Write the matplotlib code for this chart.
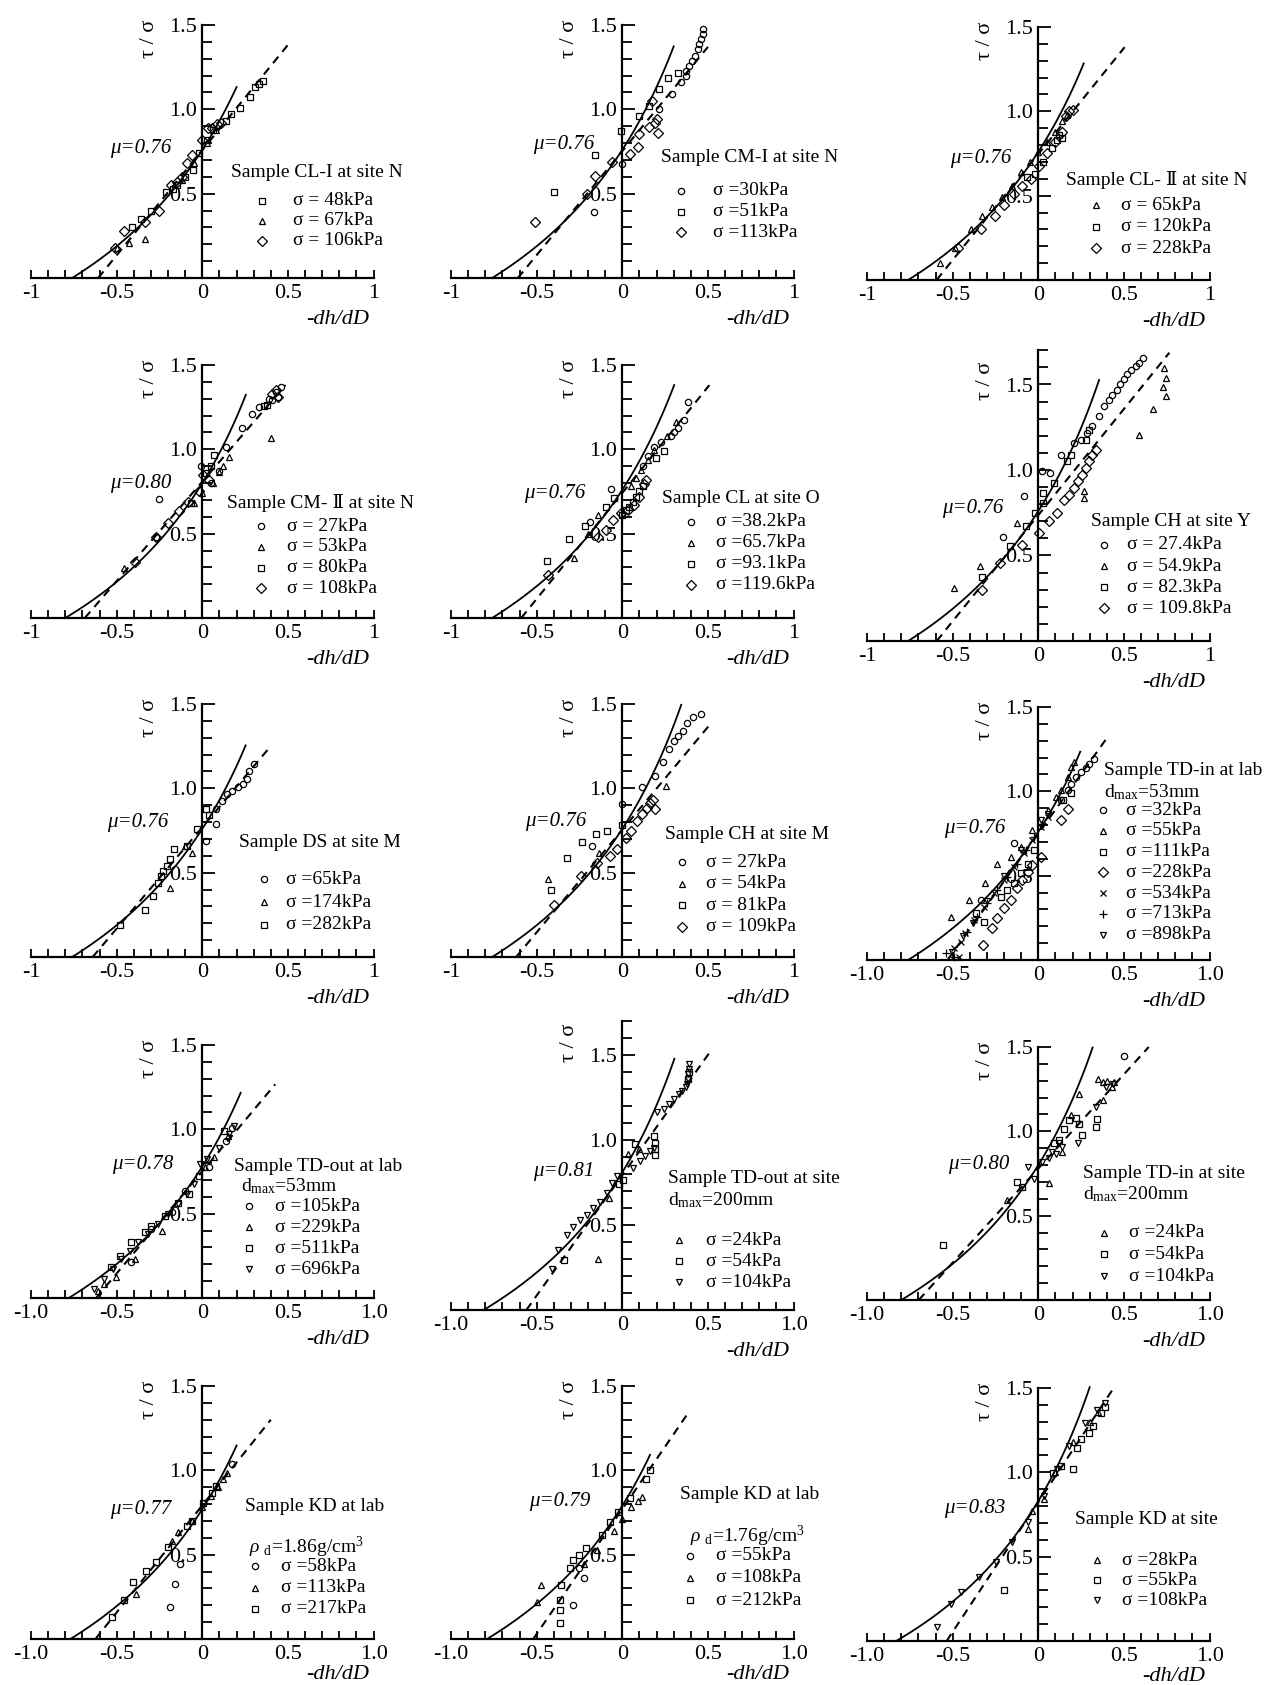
import numpy as np
import matplotlib
matplotlib.use("Agg")
import matplotlib.pyplot as plt

plt.rcParams["font.family"] = ["Liberation Serif", "DejaVu Serif", "Noto Sans CJK JP"]
plt.rcParams["mathtext.fontset"] = "custom"
plt.rcParams["mathtext.rm"] = "Liberation Serif"
plt.rcParams["mathtext.it"] = "Liberation Serif:italic"

# ---------------- data ----------------
mu_values = [0.76, 0.76, 0.76, 0.80, 0.76, 0.76, 0.76, 0.76, 0.76,
             0.78, 0.81, 0.80, 0.77, 0.79, 0.83]
# last -dh/dD of the solid (theory) curve
solid_end = [0.20, 0.30, 0.265, 0.254, 0.303, 0.355, 0.253, 0.344, 0.245,
             0.224, 0.304, 0.317, 0.20, 0.162, 0.30]
# dashed line: x where it meets 0, end x, end y
dash_x0 = [-0.608, -0.61, -0.594, -0.686, -0.59, -0.593, -0.64, -0.62, -0.53,
           -0.62, -0.56, -0.698, -0.624, -0.52, -0.535]
dash_x1 = [0.504, 0.50, 0.504, 0.486, 0.508, 0.765, 0.393, 0.506, 0.405,
           0.426, 0.505, 0.645, 0.40, 0.388, 0.44]
dash_y1 = [1.387, 1.37, 1.38, 1.381, 1.38, 1.686, 1.242, 1.371, 1.322,
           1.267, 1.508, 1.50, 1.30, 1.345, 1.50]

titles = ["Sample CL-I at site N", "Sample CM-I at site N", "Sample CL- \u2161 at site N",
          "Sample CM- \u2161 at site N", "Sample CL at site O", "Sample CH at site Y",
          "Sample DS at site M", "Sample CH at site M", "Sample TD-in at lab",
          "Sample TD-out at lab", "Sample TD-out at site", "Sample TD-in at site",
          "Sample KD at lab", "Sample KD at lab", "Sample KD at site"]
subtitles = [None, None, None, None, None, None, None, None,
             r"d$_{\mathrm{max}}$=53mm", r"d$_{\mathrm{max}}$=53mm",
             r"d$_{\mathrm{max}}$=200mm", r"d$_{\mathrm{max}}$=200mm",
             r"$\rho$ $_{\mathrm{d}}$=1.86g/cm$^{3}$", r"$\rho$ $_{\mathrm{d}}$=1.76g/cm$^{3}$", None]

labels = [
    ["\u03c3 = 48kPa", "\u03c3 = 67kPa", "\u03c3 = 106kPa"],
    ["\u03c3 =30kPa", "\u03c3 =51kPa", "\u03c3 =113kPa"],
    ["\u03c3 = 65kPa", "\u03c3 = 120kPa", "\u03c3 = 228kPa"],
    ["\u03c3 = 27kPa", "\u03c3 = 53kPa", "\u03c3 = 80kPa", "\u03c3 = 108kPa"],
    ["\u03c3 =38.2kPa", "\u03c3 =65.7kPa", "\u03c3 =93.1kPa", "\u03c3 =119.6kPa"],
    ["\u03c3 = 27.4kPa", "\u03c3 = 54.9kPa", "\u03c3 = 82.3kPa", "\u03c3 = 109.8kPa"],
    ["\u03c3 =65kPa", "\u03c3 =174kPa", "\u03c3 =282kPa"],
    ["\u03c3 = 27kPa", "\u03c3 = 54kPa", "\u03c3 = 81kPa", "\u03c3 = 109kPa"],
    ["\u03c3 =32kPa", "\u03c3 =55kPa", "\u03c3 =111kPa", "\u03c3 =228kPa",
     "\u03c3 =534kPa", "\u03c3 =713kPa", "\u03c3 =898kPa"],
    ["\u03c3 =105kPa", "\u03c3 =229kPa", "\u03c3 =511kPa", "\u03c3 =696kPa"],
    ["\u03c3 =24kPa", "\u03c3 =54kPa", "\u03c3 =104kPa"],
    ["\u03c3 =24kPa", "\u03c3 =54kPa", "\u03c3 =104kPa", None],
    ["\u03c3 =58kPa", "\u03c3 =113kPa", "\u03c3 =217kPa"],
    ["\u03c3 =55kPa", "\u03c3 =108kPa", "\u03c3 =212kPa"],
    ["\u03c3 =28kPa", "\u03c3 =55kPa", "\u03c3 =108kPa"],
]
markers = [
    ["s", "^", "D"], ["o", "s", "D"], ["^", "s", "D"], ["o", "^", "s", "D"],
    ["o", "^", "s", "D"], ["o", "^", "s", "D"], ["o", "^", "s"], ["o", "^", "s", "D"],
    ["o", "^", "s", "D", "x", "+", "v"], ["o", "^", "s", "v"], ["^", "s", "v"],
    ["^", "s", "v", "o"], ["o", "^", "s"], ["o", "^", "s"], ["^", "s", "v"],
]

p1_x = [[0.357, 0.33, 0.31, 0.28, 0.22, 0.17, 0.14, 0.06, 0.025, -0.02, -0.057, -0.10, -0.15, -0.17, -0.21, -0.30, -0.355, -0.41],
        [-0.336, -0.43, -0.5, -0.12, -0.05, 0.03, 0.08],
        [0.084, 0.055, 0.035, -0.004, -0.06, -0.12, -0.18, -0.25, -0.336, -0.46, -0.51, -0.15, -0.09, 0.11]]
p1_y = [[1.17, 1.15, 1.13, 1.07, 1.01, 0.97, 0.93, 0.88, 0.82, 0.74, 0.64, 0.60, 0.55, 0.53, 0.51, 0.40, 0.35, 0.30],
        [0.23, 0.21, 0.18, 0.58, 0.68, 0.80, 0.88],
        [0.91, 0.89, 0.89, 0.82, 0.73, 0.60, 0.55, 0.395, 0.33, 0.28, 0.18, 0.57, 0.68, 0.92]]

p2_x = [[0.47, 0.47, 0.46, 0.45, 0.44, 0.427, 0.408, 0.388, 0.369, 0.373, 0.343, 0.288, 0.216, -0.167, 0.0],
        [-0.01, -0.157, -0.4, 0.098, 0.153, 0.216, 0.265, 0.324],
        [-0.51, -0.206, -0.157, -0.059, 0.043, 0.094, 0.098, 0.157, 0.192, 0.2, 0.176, 0.21]]
p2_y = [[1.476, 1.447, 1.417, 1.387, 1.357, 1.318, 1.288, 1.259, 1.229, 1.2, 1.16, 1.09, 1.0, 0.39, 0.676],
        [0.873, 0.73, 0.508, 0.962, 1.02, 1.12, 1.186, 1.213],
        [0.33, 0.5, 0.607, 0.69, 0.735, 0.775, 0.854, 0.897, 0.92, 0.943, 1.05, 0.86]]

p3_x = [[-0.575, -0.486, -0.39, -0.33, -0.27, -0.21, -0.153, -0.10, -0.05, 0.0, 0.05, 0.10, 0.14, 0.17],
        [-0.065, 0.14, 0.11, 0.03, -0.02, 0.08, 0.12],
        [-0.467, -0.333, -0.25, -0.2, -0.143, -0.094, -0.045, 0.004, 0.053, 0.1, 0.14, 0.16, 0.18, 0.2]]
p3_y = [[0.10, 0.19, 0.30, 0.38, 0.43, 0.49, 0.56, 0.64, 0.70, 0.76, 0.82, 0.88, 0.94, 0.98],
        [0.61, 0.84, 0.83, 0.70, 0.63, 0.78, 0.86],
        [0.187, 0.3, 0.38, 0.444, 0.507, 0.56, 0.6, 0.677, 0.75, 0.82, 0.878, 0.97, 1.0, 1.01]]

p4_x = [[0.457, 0.428, 0.44, 0.409, 0.39, 0.33, 0.293, 0.23, 0.138, -0.008, -0.254, -0.27, 0.05, 0.1],
        [0.4, -0.46, 0.0, 0.06, 0.1, 0.157, 0.12, -0.05],
        [-0.066, 0.07, 0.36, 0.02, 0.05, 0.38],
        [-0.395, -0.273, -0.2, -0.134, -0.085, -0.017, 0.002, 0.04, 0.409, 0.43, 0.44]]
p4_y = [[1.372, 1.34, 1.31, 1.29, 1.30, 1.25, 1.21, 1.125, 1.016, 0.90, 0.705, 0.48, 0.80, 0.87],
        [1.066, 0.296, 0.74, 0.80, 0.868, 0.957, 0.90, 0.68],
        [0.68, 0.967, 1.257, 0.86, 0.90, 1.26],
        [0.33, 0.483, 0.562, 0.632, 0.69, 0.75, 0.85, 0.82, 1.33, 1.35, 1.31]]

p5_x = [[0.381, 0.36, 0.323, 0.284, 0.226, 0.187, -0.066, -0.19, 0.15, 0.12, 0.3],
        [-0.28, -0.2, -0.144, 0.107, 0.148, 0.187, 0.263, 0.311, 0.05, 0.08],
        [-0.44, -0.31, -0.216, -0.095, -0.047, 0.245, 0.196, 0.0, 0.02, 0.04, 0.06, 0.08, 0.10, 0.12],
        [-0.436, -0.144, -0.095, -0.056, -0.008, 0.031, 0.07, 0.1, 0.138, 0.125]]
p5_y = [[1.283, 1.175, 1.125, 1.076, 1.046, 1.016, 0.766, 0.572, 0.96, 0.90, 1.10],
        [0.355, 0.5, 0.61, 0.878, 0.937, 0.997, 1.076, 1.164, 0.78, 0.83],
        [0.335, 0.47, 0.547, 0.66, 0.71, 0.987, 0.947, 0.61, 0.64, 0.66, 0.69, 0.72, 0.75, 0.78],
        [0.257, 0.483, 0.523, 0.582, 0.62, 0.64, 0.67, 0.72, 0.82, 0.795]]

p6_x = [[0.61, 0.59, 0.57, 0.54, 0.52, 0.50, 0.478, 0.458, 0.433, 0.413, 0.384, 0.355, 0.315, 0.286, 0.247, 0.208, 0.13, 0.071, 0.022, -0.085, -0.206],
        [0.736, 0.745, 0.727, 0.745, 0.667, 0.59, 0.267, 0.264, -0.124, -0.343, -0.495],
        [0.296, 0.276, 0.188, 0.17, 0.09, 0.028, 0.028, -0.017, -0.07, -0.163, -0.33],
        [0.335, 0.315, 0.296, 0.276, 0.257, 0.231, 0.208, 0.179, 0.15, 0.11, 0.061, 0.003, -0.095, -0.222, -0.33]]
p6_y = [[1.656, 1.627, 1.607, 1.584, 1.56, 1.53, 1.50, 1.47, 1.441, 1.41, 1.373, 1.314, 1.26, 1.217, 1.178, 1.158, 1.09, 0.982, 0.992, 0.846, 0.607],
        [1.598, 1.539, 1.486, 1.43, 1.354, 1.207, 0.875, 0.836, 0.69, 0.44, 0.309],
        [1.236, 1.178, 1.09, 1.05, 0.924, 0.865, 0.807, 0.748, 0.67, 0.553, 0.373],
        [1.119, 1.085, 1.05, 1.012, 0.973, 0.934, 0.895, 0.855, 0.826, 0.748, 0.70, 0.631, 0.5625, 0.455, 0.299]]

p7_x = [[0.3, 0.275, 0.262, 0.238, 0.207, 0.176, 0.145, 0.114, 0.082, 0.082, 0.02],
        [-0.058, -0.19, -0.1],
        [0.02, -0.166, -0.19, -0.204, -0.229, -0.244, -0.26, -0.29, -0.336, -0.482, -0.089, 0.04, -0.03]]
p7_y = [[1.143, 1.104, 1.058, 1.024, 1.005, 0.985, 0.965, 0.925, 0.876, 0.787, 0.688],
        [0.618, 0.41, 0.66],
        [0.876, 0.638, 0.578, 0.539, 0.509, 0.479, 0.44, 0.36, 0.281, 0.192, 0.658, 0.84, 0.76]]

p8_x = [[0.46, 0.41, 0.38, 0.356, 0.325, 0.303, 0.272, 0.24, 0.19, 0.116, -0.175, 0.0],
        [0.256, -0.134, -0.431],
        [-0.156, -0.088, -0.234, -0.322, -0.416, 0.0],
        [-0.4, -0.244, -0.15, -0.072, -0.03, 0.02, 0.053, 0.084, 0.116, 0.147, 0.163, 0.18, 0.19]]
p8_y = [[1.44, 1.42, 1.39, 1.341, 1.312, 1.282, 1.232, 1.153, 1.074, 1.005, 0.658, 0.905],
        [1.014, 0.618, 0.46],
        [0.727, 0.747, 0.682, 0.588, 0.40, 0.78],
        [0.311, 0.479, 0.559, 0.598, 0.64, 0.707, 0.747, 0.806, 0.846, 0.886, 0.915, 0.93, 0.88]]

p9_x = [[0.327, 0.298, 0.278, 0.249, 0.22, 0.19, 0.171, 0.132, -0.141, -0.337],
        [-0.512, -0.405, -0.313, -0.239, -0.161, -0.102, -0.034, 0.19, 0.21, 0.171, 0.132, 0.103, 0.054],
        [-0.366, -0.317, -0.22, -0.18, -0.141, -0.102, -0.063, -0.024, 0.142, 0.19],
        [-0.32, -0.268, -0.239, -0.2, -0.161, -0.122, -0.093, -0.063, -0.034, 0.015, 0.132, 0.171],
        [-0.463, -0.493, -0.454, -0.425, -0.376, -0.317, -0.259, -0.2, -0.141, -0.083, -0.034, 0.015, 0.054],
        [-0.541, -0.493, -0.415, -0.356, -0.298, -0.239, -0.18, -0.122, -0.073, -0.024, 0.024],
        [-0.502, -0.44, -0.38, -0.3, -0.2, -0.1, 0.015, 0.054]]
p9_y = [[1.194, 1.164, 1.14, 1.115, 1.085, 1.046, 1.006, 0.947, 0.691, 0.355],
        [0.257, 0.355, 0.458, 0.572, 0.61, 0.671, 0.77, 1.145, 1.174, 1.085, 1.006, 0.967, 0.888],
        [0.276, 0.227, 0.375, 0.414, 0.454, 0.513, 0.572, 0.651, 0.947, 0.987],
        [0.089, 0.187, 0.247, 0.306, 0.355, 0.424, 0.474, 0.523, 0.562, 0.612, 0.828, 0.898],
        [0.02, 0.069, 0.109, 0.158, 0.237, 0.316, 0.395, 0.474, 0.553, 0.632, 0.711, 0.789, 0.848],
        [0.039, 0.02, 0.168, 0.257, 0.335, 0.414, 0.493, 0.572, 0.651, 0.73, 0.809],
        [0.049, 0.14, 0.22, 0.35, 0.50, 0.65, 0.829, 0.868]]

p10_x = [[0.175, 0.136, 0.037, -0.1, -0.179, -0.297, -0.415],
         [0.151, 0.067, 0.018, -0.238, -0.395, -0.503, -0.572, -0.61],
         [-0.532, -0.483, -0.415, -0.336, -0.297, -0.218, -0.14, -0.08, -0.022, 0.126],
         [-0.631, -0.572, -0.523, -0.473, -0.424, -0.375, -0.316, -0.257, -0.198, -0.139, -0.09, -0.051, -0.012, 0.028, 0.096, 0.155, 0.185]]
p10_y = [[1.01, 0.932, 0.774, 0.636, 0.507, 0.408, 0.211],
         [0.961, 0.833, 0.774, 0.399, 0.231, 0.122, 0.083, 0.043],
         [0.182, 0.25, 0.33, 0.389, 0.428, 0.487, 0.566, 0.616, 0.724, 0.99],
         [0.053, 0.112, 0.172, 0.231, 0.28, 0.33, 0.379, 0.438, 0.497, 0.557, 0.616, 0.675, 0.793, 0.823, 0.892, 0.971, 1.02]]

p11_x = [[-0.14, 0.036, -0.08, 0.10],
         [-0.34, 0.075, 0.183, 0.193, 0.193, 0.19, 0.007, -0.02, 0.39, 0.385],
         [0.388, 0.388, 0.386, 0.383, 0.378, 0.369, 0.349, 0.33, 0.30, 0.271, 0.241, 0.202, 0.183, 0.163, 0.134, 0.104, 0.065, -0.032, -0.062, -0.091, -0.13, -0.169, -0.208, -0.247, -0.286, -0.325, -0.374, -0.413]]
p11_y = [[0.302, 0.915, 0.66, 0.95],
         [0.296, 0.974, 1.024, 0.984, 0.945, 0.91, 0.767, 0.74, 1.40, 1.36],
         [1.449, 1.419, 1.39, 1.36, 1.33, 1.31, 1.29, 1.271, 1.241, 1.211, 1.182, 1.162, 0.955, 0.935, 0.905, 0.875, 0.836, 0.787, 0.747, 0.688, 0.638, 0.599, 0.559, 0.53, 0.49, 0.441, 0.352, 0.243]]

p12_x = [[0.346, 0.376, 0.40, 0.43, 0.379, 0.239, 0.19, 0.063, 0.141, -0.18, 0.44],
         [-0.557, -0.122, -0.093, 0.151, 0.18, 0.22, 0.239, 0.255, 0.336, 0.34, 0.093, 0.12],
         [-0.063, -0.024, 0.024, 0.102, 0.122, 0.141, 0.229, 0.395, 0.336, 0.434, 0.06, 0.08],
         [0.502]]
p12_y = [[1.312, 1.293, 1.30, 1.263, 1.184, 1.224, 1.095, 0.691, 0.878, 0.592, 1.29],
         [0.326, 0.70, 0.671, 1.016, 1.066, 1.076, 1.046, 0.977, 1.026, 1.07, 0.928, 0.95],
         [0.789, 0.72, 0.819, 0.868, 0.928, 0.908, 0.928, 1.263, 1.145, 1.283, 0.84, 0.88],
         [1.445]]

p13_x = [[-0.186, -0.162, -0.129, 0.176],
         [0.144, 0.12, 0.09, -0.139, -0.176, -0.388, -0.06, 0.0, 0.05],
         [-0.529, -0.459, -0.402, -0.327, -0.271, -0.2, -0.092, -0.059, 0.002, 0.059, 0.082]]
p13_y = [[0.19, 0.328, 0.446, 1.035],
         [0.985, 0.95, 0.90, 0.632, 0.583, 0.269, 0.70, 0.78, 0.85],
         [0.132, 0.23, 0.338, 0.406, 0.456, 0.544, 0.672, 0.701, 0.809, 0.868, 0.907]]

p14_x = [[-0.285, -0.224, -0.252],
         [-0.473, -0.496, -0.224, 0.115, 0.09, 0.05, 0.0, -0.05, -0.15],
         [-0.365, -0.365, -0.365, -0.355, -0.308, -0.285, -0.252, -0.214, -0.12, -0.073, -0.026, 0.045, 0.139, 0.162]]
p14_y = [[0.201, 0.363, 0.418],
         [0.32, 0.221, 0.442, 0.843, 0.82, 0.78, 0.71, 0.64, 0.53],
         [0.093, 0.172, 0.231, 0.32, 0.418, 0.468, 0.497, 0.537, 0.616, 0.695, 0.754, 0.833, 0.951, 1.0]]

p15_x = [[-0.06, -0.036, 0.036, 0.10, 0.20, 0.30, 0.35],
         [-0.20, 0.083, 0.13, 0.20, 0.226, 0.297, 0.32, 0.368, 0.39, 0.25],
         [-0.59, -0.51, -0.449, -0.344, -0.249, -0.154, -0.06, 0.036, 0.107, 0.178, 0.273, 0.344, 0.392]]
p15_y = [[0.664, 0.773, 0.84, 1.0, 1.18, 1.30, 1.36],
         [0.30, 0.998, 1.04, 1.02, 1.146, 1.234, 1.274, 1.352, 1.39, 1.20],
         [0.085, 0.22, 0.29, 0.38, 0.468, 0.586, 0.704, 0.86, 1.018, 1.156, 1.293, 1.372, 1.41]]

series_x = [p1_x, p2_x, p3_x, p4_x, p5_x, p6_x, p7_x, p8_x, p9_x, p10_x, p11_x, p12_x, p13_x, p14_x, p15_x]
series_y = [p1_y, p2_y, p3_y, p4_y, p5_y, p6_y, p7_y, p8_y, p9_y, p10_y, p11_y, p12_y, p13_y, p14_y, p15_y]

# ---------------- layout (pixels of the 1266x1685 figure) ----------------
W, H = 1266, 1685
COL_X0 = [31, 451, 867]          # pixel of x = -1
UX = 171.3                       # pixels per unit in x
Y0 = [278, 278, 280, 618, 618, 641, 957, 957, 960, 1298, 1310, 1300, 1639, 1639, 1641]
UY = [168.7] * 15
UY[5], UY[10] = 171.0, 170.0
YTOP = [1.5] * 15
YTOP[5], YTOP[10] = 1.7, 1.7
YLAB_Y = [1.42] * 15
YLAB_Y[5], YLAB_Y[10] = 1.52, 1.57
XLAB_Y = [-0.245] * 12 + [-0.212] * 3

mu_pos = [(-0.54, 0.765), (-0.52, 0.794), (-0.516, 0.72), (-0.54, 0.80), (-0.576, 0.74),
          (-0.564, 0.777), (-0.555, 0.797), (-0.566, 0.806), (-0.551, 0.78), (-0.528, 0.79),
          (-0.521, 0.816), (-0.526, 0.805), (-0.539, 0.766), (-0.544, 0.813), (-0.549, 0.786)]
# legend: title (x, y), subtitle (x, y), marker x, text x, first row y, row step
leg = [
    ((0.17, 0.626), None, 0.35, 0.53, 0.458, 0.119),
    ((0.225, 0.715), None, 0.343, 0.53, 0.518, 0.124),
    ((0.16, 0.592), None, 0.337, 0.484, 0.444, 0.128),
    ((0.147, 0.68), None, 0.34, 0.496, 0.543, 0.122),
    ((0.23, 0.71), None, 0.40, 0.547, 0.572, 0.125),
    ((0.306, 0.70), None, 0.384, 0.52, 0.5625, 0.124),
    ((0.216, 0.678), None, 0.362, 0.487, 0.46, 0.134),
    ((0.25, 0.727), None, 0.35, 0.49, 0.563, 0.128),
    ((0.381, 1.125), (0.385, 0.997), 0.376, 0.512, 0.888, 0.123),
    ((0.185, 0.78), (0.224, 0.661), 0.273, 0.426, 0.543, 0.124),
    ((0.267, 0.771), (0.267, 0.648), 0.329, 0.486, 0.411, 0.124),
    ((0.262, 0.75), (0.262, 0.628), 0.385, 0.532, 0.40, 0.129),
    ((0.247, 0.785), (0.27, 0.544), 0.308, 0.459, 0.432, 0.127),
    ((0.336, 0.857), (0.398, 0.606), 0.398, 0.548, 0.493, 0.131),
    ((0.216, 0.718), None, 0.344, 0.487, 0.48, 0.119),
]

MSIZE = {"o": 4.5, "^": 5, "s": 5, "D": 5, "x": 5, "+": 6, "v": 5}

fig = plt.figure(figsize=(W / 100, H / 100), dpi=100)
fig.patch.set_facecolor("white")

for i in range(15):
    col = i % 3
    x0 = COL_X0[col]
    y0, uy, ytop = Y0[i], UY[i], YTOP[i]
    xa, xb = -1.05, 1.05
    ya, yb = -0.05, ytop + 0.05
    left = (x0 + (xa + 1) * UX) / W
    width = (xb - xa) * UX / W
    bottom = 1 - (y0 - ya * uy) / H
    height = (yb - ya) * uy / H
    ax = fig.add_axes([left, bottom, width, height])
    ax.set_xlim(xa, xb)
    ax.set_ylim(ya, yb)
    ax.patch.set_alpha(0)

    for s in ("top", "right"):
        ax.spines[s].set_visible(False)
    ax.spines["left"].set_position(("data", 0))
    ax.spines["bottom"].set_position(("data", 0))
    ax.spines["left"].set_bounds(0, ytop)
    ax.spines["bottom"].set_bounds(-1, 1)
    for s in ("left", "bottom"):
        ax.spines[s].set_linewidth(1.6)

    ax.set_xticks([-1, -0.5, 0, 0.5, 1])
    if i >= 8:
        ax.set_xticklabels(["-1.0", "-0.5", "0", "0.5", "1.0"])
    else:
        ax.set_xticklabels(["-1", "-0.5", "0", "0.5", "1"])
    ax.set_xticks(np.round(np.arange(-1, 1.001, 0.1), 2), minor=True)
    ax.set_yticks([0.5, 1.0, 1.5])
    ax.set_yticklabels(["0.5", "1.0", "1.5"])
    ax.set_yticks(np.round(np.arange(0.1, ytop + 0.001, 0.1), 2), minor=True)
    ax.tick_params(axis="x", which="both", direction="in", length=6, width=1.3,
                   pad=4, labelsize=16)
    ax.tick_params(axis="y", which="both", direction="in", length=7, width=1.3,
                   pad=4, labelsize=16)
    ax.tick_params(axis="y", which="major", length=9)

    mu = mu_values[i]
    d = np.linspace(-mu, solid_end[i], 120)
    ax.plot(d, (mu + d) / (1 - mu * d), color="black", lw=1.3, zorder=2, clip_on=False)
    ax.plot([dash_x0[i], dash_x1[i]], [0, dash_y1[i]], color="black", lw=1.5,
            ls=(0, (4, 3)), zorder=2, clip_on=False)

    for xs, ys, m in zip(series_x[i], series_y[i], markers[i]):
        ax.plot(xs, ys, ls="none", marker=m, ms=MSIZE[m], mfc="none", mec="black",
                mew=0.9, zorder=3, clip_on=False)

    ax.text(mu_pos[i][0], mu_pos[i][1], f"\u03bc={mu:.2f}", style="italic",
            fontsize=15, ha="left", va="center")
    ax.text(0.79, XLAB_Y[i], "-dh/dD", style="italic", fontsize=16, ha="center", va="center")
    ax.text(-0.31, YLAB_Y[i], "\u03c4 / \u03c3", rotation=90, fontsize=16,
            ha="center", va="center")

    (tx, ty), sub, mx, lx, ly, step = leg[i]
    ax.text(tx, ty, titles[i], fontsize=14, ha="left", va="center")
    if sub is not None:
        ax.text(sub[0], sub[1], subtitles[i], fontsize=14, ha="left", va="center")
    row = 0
    for lab, m in zip(labels[i], markers[i]):
        if lab is None:
            continue
        yy = ly - row * step
        ax.plot([mx], [yy], ls="none", marker=m, ms=MSIZE[m], mfc="none", mec="black",
                mew=0.9, clip_on=False)
        ax.text(lx, yy, lab, fontsize=14, ha="left", va="center")
        row += 1

fig.savefig("out.png", dpi=100, facecolor="white")
